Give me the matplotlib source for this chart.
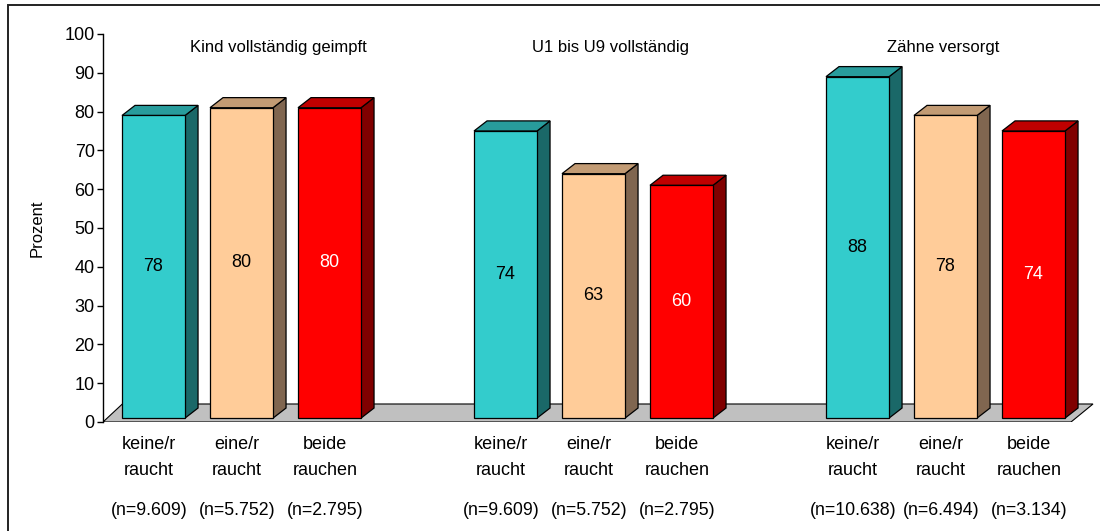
import matplotlib
matplotlib.use("Agg")
import matplotlib.pyplot as plt
from matplotlib.patches import Polygon, Rectangle

plt.rcParams['font.family'] = ['Liberation Sans', 'DejaVu Sans']

# data
groups = ['Kind vollständig geimpft', 'U1 bis U9 vollständig', 'Zähne versorgt']
categories = ['keine/r\nraucht', 'eine/r\nraucht', 'beide\nrauchen']
values = [[78, 80, 80],
          [74, 63, 60],
          [88, 78, 74]]
n_labels = [['(n=9.609)', '(n=5.752)', '(n=2.795)'],
            ['(n=9.609)', '(n=5.752)', '(n=2.795)'],
            ['(n=10.638)', '(n=6.494)', '(n=3.134)']]

# colours: front, top, side
front = ['#33CCCC', '#FFCC99', '#FF0000']
top = ['#289C9C', '#C29B74', '#BF0000']
side = ['#1A6868', '#806650', '#800000']
text_col = ['black', 'black', 'white']

fig = plt.figure(figsize=(11, 5.31), dpi=100)
ax = fig.add_axes([103 / 1100, 109 / 531, 997 / 1100, 388 / 531])
ax.set_xlim(0, 997 / 88)
ax.set_ylim(0, 100)

# frame around the chart
fig.patches.append(Rectangle((8 / 1100, -0.05), 1.1, 1 - 5 / 531 + 0.05,
                             transform=fig.transFigure, fill=False,
                             edgecolor='#222222', linewidth=1.4))

# 3d geometry (slot units / percent units)
bw = 0.716      # bar width
ddx, ddy = 0.148, 2.6   # bar depth
base = 1.0      # bar front bottom (sits inside the floor)
fdx, fdy = 0.25, 4.64   # floor depth
slots = len(groups) * (len(categories) + 1) - 1

floor = Polygon([(0, 0), (slots, 0), (slots + fdx, fdy), (fdx - 0.03, fdy)],
                closed=True, facecolor='#C0C0C0', edgecolor='black',
                linewidth=0.8, zorder=1)
ax.add_patch(floor)

for g, grp in enumerate(groups):
    for k, cat in enumerate(categories):
        j = g * (len(categories) + 1) + k
        x0 = j + 0.216
        x1 = x0 + bw
        v = values[g][k] + base
        kw = dict(closed=True, edgecolor='black', linewidth=0.9, zorder=3)
        ax.add_patch(Polygon([(x1, base), (x1 + ddx, base + ddy),
                              (x1 + ddx, v + ddy), (x1, v)],
                             facecolor=side[k], **kw))
        ax.add_patch(Polygon([(x0, v), (x1, v), (x1 + ddx, v + ddy),
                              (x0 + ddx, v + ddy)],
                             facecolor=top[k], **kw))
        ax.add_patch(Polygon([(x0, base), (x1, base), (x1, v), (x0, v)],
                             facecolor=front[k], **kw))
        xc = (x0 + x1) / 2
        ax.text(xc, (v + base) / 2, str(values[g][k]), ha='center',
                va='center', fontsize=13, color=text_col[k], zorder=4)
        ax.text(xc - 0.05, -9.2, cat, ha='center', va='center', fontsize=13,
                linespacing=1.7, clip_on=False)
        ax.text(xc - 0.05, -22.7, n_labels[g][k], ha='center', va='center',
                fontsize=12.8, clip_on=False)

title_x = [1.99, 5.77, 9.55]
for g, grp in enumerate(groups):
    ax.text(title_x[g], 96.6, grp, ha='center', va='center', fontsize=12)

ax.set_yticks(range(0, 101, 10))
ax.set_xticks([])
ax.tick_params(axis='y', direction='out', length=4.5, width=1, pad=1.5,
               labelsize=13)
for s in ['top', 'right', 'bottom']:
    ax.spines[s].set_visible(False)
ax.spines['left'].set_linewidth(1)
ax.set_ylabel('Prozent', fontsize=12, labelpad=14)
ax.patch.set_visible(False)

fig.savefig('out.png', dpi=100)
